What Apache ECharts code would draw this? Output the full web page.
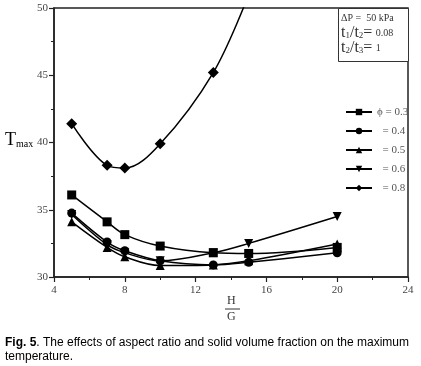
<!DOCTYPE html>
<html>
<head>
<meta charset="utf-8">
<script src="https://cdn.jsdelivr.net/npm/echarts@6/dist/echarts.min.js"></script>
<style>
	html, body { margin: 0; padding: 0; background: #fff; }
	#chart { width: 421px; height: 366px; }
</style>
</head>
<body>
<div id="chart"></div>
<script>
// H/G 取值
const hg = [5, 7, 8, 10, 13, 15, 20]
// 各体积分数下的 Tmax
const phi03 = [36.1, 34.1, 33.15, 32.3, 31.8, 31.75, 32.2]
const phi04 = [34.75, 32.6, 31.95, 31.2, 30.9, 31.1, 31.8]
const phi05 = [34.1, 32.2, 31.5, 30.85, 30.9, 31.2, 32.45]
const phi06 = [34.65, 32.4, 31.8, 31.2, 31.8, 32.5, 34.5]
// φ=0.8 在 15 之后超出坐标范围
const hg08 = [5, 7, 8, 10, 13, 15]
const phi08 = [41.4, 38.3, 38.1, 39.9, 45.2, 51]
const legendNames = ['ϕ = 0.3', '  = 0.4', '  = 0.5', '  = 0.6', '  = 0.8']
const xTicks = [4, 8, 12, 16, 20, 24]
const yTicks = [30, 35, 40, 45, 50]

const serif = 'Liberation Serif'
const chartInstance = echarts.init(document.getElementById('chart'))

function pairs(xs, ys) {
	return xs.map((x, i) => [x, ys[i]])
}

function makeSeries(name, xs, ys, symbol, rotate) {
	return {
		name: name,
		type: 'line',
		smooth: 0.35,
		symbol: symbol,
		symbolRotate: rotate || 0,
		symbolSize: symbol === 'diamond' ? 11 : 9,
		itemStyle: { color: '#000' },
		lineStyle: { color: '#000', width: 1.5 },
		data: pairs(xs, ys),
	}
}

const option = {
	animation: false,
	grid: {
		left: 54,
		right: 13,
		top: 8,
		bottom: 89,
		show: true,
		borderColor: '#222',
		borderWidth: 1.5,
	},
	legend: {
		orient: 'vertical',
		left: 340,
		top: 101,
		itemWidth: 26,
		itemHeight: 8,
		itemGap: 7,
		align: 'left',
		textStyle: { fontFamily: serif, fontSize: 11, lineHeight: 12, color: '#555' },
		data: legendNames,
	},
	xAxis: {
		type: 'value',
		min: xTicks[0],
		max: xTicks[xTicks.length - 1],
		interval: 4,
		axisLine: { lineStyle: { color: '#222', width: 1.5 } },
		axisTick: { show: true, inside: false, length: 5, lineStyle: { color: '#222', width: 1.2 } },
		minorTick: { show: true, splitNumber: 2, length: 3, lineStyle: { color: '#222' } },
		splitLine: { show: false },
		axisLabel: { fontFamily: serif, fontSize: 11, color: '#444', margin: 8 },
	},
	yAxis: {
		type: 'value',
		min: yTicks[0],
		max: yTicks[yTicks.length - 1],
		interval: 5,
		axisLine: { lineStyle: { color: '#222', width: 1.5 } },
		axisTick: { show: true, inside: false, length: 5, lineStyle: { color: '#222', width: 1.2 } },
		minorTick: { show: true, splitNumber: 2, length: 3, lineStyle: { color: '#222' } },
		splitLine: { show: false },
		axisLabel: { fontFamily: serif, fontSize: 11, color: '#444', margin: 6 },
	},
	graphic: [
		// 右上角参数框
		{
			type: 'rect',
			left: 338,
			top: 8,
			shape: { width: 70, height: 53 },
			style: { fill: '#fff', stroke: '#333', lineWidth: 1 },
			z: 10,
		},
		{
			type: 'text',
			left: 341,
			top: 13,
			z: 11,
			style: {
				text: 'ΔP =  50 kPa',
				font: '10px "Liberation Serif"',
				fill: '#333',
			},
		},
		{
			type: 'text',
			left: 341,
			top: 25,
			z: 11,
			style: {
				text: '{b|t}{s|1}{b|/t}{s|2}{b|=} {v|0.08}\n{b|t}{s|2}{b|/t}{s|3}{b|=} {v|1}',
				fill: '#333',
				rich: {
					b: { fontFamily: serif, fontSize: 16, color: '#333', lineHeight: 15 },
					s: { fontFamily: serif, fontSize: 9, color: '#333', verticalAlign: 'bottom', padding: [6, 0, 0, 0], lineHeight: 15 },
					v: { fontFamily: serif, fontSize: 10, color: '#444', lineHeight: 15 },
				},
			},
		},
		// 纵轴标题
		{
			type: 'text',
			left: 5,
			top: 131,
			style: {
				text: '{t|T}{s|max}',
				rich: {
					t: { fontFamily: serif, fontSize: 18, color: '#222' },
					s: { fontFamily: serif, fontSize: 10, color: '#222', padding: [9, 0, 0, 0] },
				},
			},
		},
		// 横轴标题 H/G
		{
			type: 'text',
			left: 227,
			top: 295,
			style: { text: 'H', font: '12px "Liberation Serif"', fill: '#333' },
		},
		{
			type: 'line',
			shape: { x1: 225, y1: 309, x2: 240, y2: 309 },
			style: { stroke: '#333', lineWidth: 1 },
		},
		{
			type: 'text',
			left: 227,
			top: 311,
			style: { text: 'G', font: '12px "Liberation Serif"', fill: '#333' },
		},
		// 图注
		{
			type: 'text',
			left: 5,
			top: 337,
			style: {
				text: '{b|Fig. 5}{n|. The effects of aspect ratio and solid volume fraction on the maximum}\n{n|temperature.}',
				rich: {
					b: { fontFamily: 'Liberation Sans', fontSize: 12, fontWeight: 'bold', color: '#222', lineHeight: 14 },
					n: { fontFamily: 'Liberation Sans', fontSize: 12, color: '#222', lineHeight: 14 },
				},
			},
		},
	],
	series: [
		makeSeries(legendNames[0], hg, phi03, 'rect'),
		makeSeries(legendNames[1], hg, phi04, 'circle'),
		makeSeries(legendNames[2], hg, phi05, 'triangle'),
		makeSeries(legendNames[3], hg, phi06, 'triangle', 180),
		makeSeries(legendNames[4], hg08, phi08, 'diamond'),
	],
}
chartInstance.setOption(option)
</script>
</body>
</html>
